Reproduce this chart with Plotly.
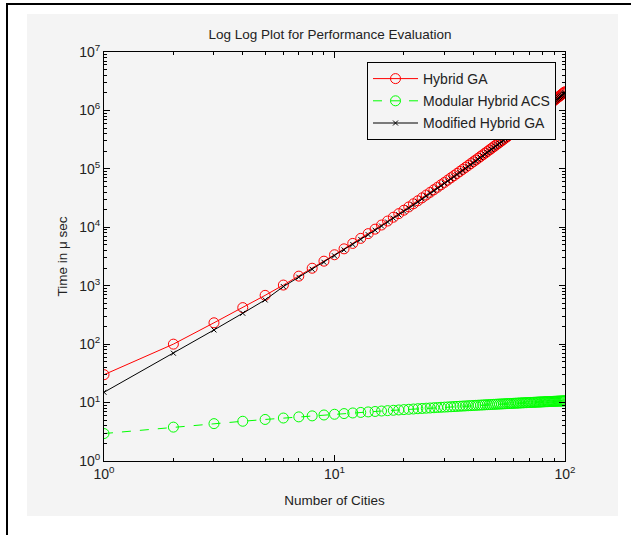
import plotly.graph_objects as go

cities = list(range(1, 101))

hybrid_ga = [30, 100, 232, 422, 684, 1026, 1459, 1991, 2630, 3388,
             4276, 5294, 6460, 7790, 9290, 10940, 12800, 14860, 17130, 19590,
             22300, 25230, 28440, 31900, 35620, 39630, 43950, 48550, 53460, 58720,
             64370, 70290, 76560, 83330, 90360, 97950, 105900, 114200, 123000, 132200,
             141900, 152000, 162800, 173900, 185600, 198100, 210700, 224000, 238200, 252600,
             267700, 283300, 299700, 316700, 334700, 353200, 372400, 391900, 412400, 433700,
             455600, 478600, 502000, 526700, 552000, 577900, 605100, 632400, 661100, 690700,
             721100, 753100, 785800, 818500, 853100, 889200, 924700, 961600, 1000000, 1040000,
             1081000, 1122000, 1167000, 1211000, 1256000, 1303000, 1349000, 1400000, 1449000, 1500000,
             1552000, 1607000, 1663000, 1718000, 1778000, 1837000, 1897000, 1959000, 2023000, 2089000]

modular_acs = [2.95, 3.80, 4.36, 4.79, 5.14, 5.44, 5.69, 5.92, 6.13, 6.31,
               6.48, 6.64, 6.78, 6.92, 7.04, 7.17, 7.28, 7.38, 7.48, 7.58,
               7.67, 7.76, 7.85, 7.93, 8.01, 8.08, 8.16, 8.23, 8.30, 8.36,
               8.43, 8.49, 8.55, 8.60, 8.66, 8.71, 8.77, 8.82, 8.87, 8.92,
               8.97, 9.02, 9.06, 9.11, 9.15, 9.20, 9.24, 9.28, 9.32, 9.36,
               9.40, 9.44, 9.47, 9.51, 9.55, 9.58, 9.62, 9.65, 9.68, 9.72,
               9.75, 9.78, 9.81, 9.85, 9.88, 9.91, 9.94, 9.97, 9.99, 10.02,
               10.05, 10.08, 10.10, 10.13, 10.16, 10.18, 10.21, 10.23, 10.26, 10.28,
               10.31, 10.33, 10.36, 10.38, 10.40, 10.42, 10.45, 10.47, 10.49, 10.51,
               10.53, 10.55, 10.58, 10.60, 10.61, 10.64, 10.66, 10.68, 10.70, 10.72]

modified_ga = [15, 70, 175, 338, 571, 966, 1400, 1910, 2520, 3250,
               4100, 5080, 6200, 7480, 8920, 10500, 12300, 14300, 16400, 18800,
               21400, 24200, 27300, 30600, 34200, 38000, 42200, 46600, 51300, 56400,
               61800, 67500, 73500, 80000, 86700, 94000, 101700, 109600, 118100, 126900,
               136200, 145900, 156300, 166900, 178200, 190200, 202300, 215000, 228700, 242500,
               257000, 272000, 287700, 304000, 321300, 339100, 357500, 376200, 395900, 416400,
               437400, 459500, 481900, 505600, 529900, 554800, 580900, 607100, 634700, 663100,
               692300, 723000, 754400, 785800, 819000, 853600, 887700, 923100, 960000, 998400,
               1037800, 1077100, 1120300, 1162600, 1205800, 1250900, 1295000, 1344000, 1391000, 1440000,
               1490000, 1543000, 1596000, 1649000, 1707000, 1764000, 1821000, 1881000, 1942000, 2005000]

x_tickvals = [1, 10, 100]
x_ticktext = ["10<sup>0</sup>", "10<sup>1</sup>", "10<sup>2</sup>"]
y_tickvals = [1, 10, 100, 1000, 10000, 100000, 1000000, 10000000]
y_ticktext = ["10<sup>%d</sup>" % i for i in range(8)]

x_minor = [m * d for d in (1, 10) for m in range(2, 10)]
y_minor = [m * 10 ** d for d in range(7) for m in range(2, 10)]

FONT = "Liberation Sans"
GRAY = "#f4f4f4"
TXT = "#222222"

fig = go.Figure()
fig.add_trace(go.Scatter(
    x=cities, y=hybrid_ga, name="Hybrid GA", mode="lines+markers", legendgroup="a",
    line=dict(color="#ff0000", width=1),
    marker=dict(symbol="circle-open", size=10, color="#ff0000", line=dict(width=1))))
fig.add_trace(go.Scatter(
    x=cities, y=modular_acs, name="Modular Hybrid ACS", mode="lines+markers", legendgroup="b",
    line=dict(color="#00ff00", width=1, dash="dash"),
    marker=dict(symbol="circle-open", size=10, color="#00ff00", line=dict(width=1))))
fig.add_trace(go.Scatter(
    x=cities, y=modified_ga, name="Modified Hybrid GA", mode="lines+markers", legendgroup="c",
    line=dict(color="#000000", width=1),
    marker=dict(symbol="x-thin-open", size=5, color="#000000", line=dict(width=1))))

L, R, T, B = 104, 66, 52, 74
W, H = 631, 535
pw, ph = W - L - R, H - T - B

def px(x):
    return (x - L) / pw

def py(y):
    return (H - B - y) / ph

shapes = [
    dict(type="rect", xref="paper", yref="paper", x0=px(27), x1=px(618), y0=py(516), y1=py(14),
         fillcolor=GRAY, line=dict(width=0), layer="below"),
    dict(type="rect", xref="paper", yref="paper", x0=px(6), x1=px(631), y0=py(5), y1=py(3),
         fillcolor="black", line=dict(width=0), layer="above"),
    dict(type="rect", xref="paper", yref="paper", x0=px(6), x1=px(8), y0=py(535), y1=py(3),
         fillcolor="black", line=dict(width=0), layer="above"),
]

axis_common = dict(
    type="log", showgrid=False, zeroline=False, showline=True, linecolor="black", linewidth=1,
    mirror="allticks", ticks="inside", ticklen=6, tickcolor="black", tickwidth=1,
    tickfont=dict(family=FONT, size=14, color=TXT),
)

fig.update_layout(
    width=W, height=H,
    margin=dict(l=L, r=R, t=T, b=B),
    paper_bgcolor="white", plot_bgcolor=GRAY,
    font=dict(family=FONT, size=13, color=TXT),
    title=dict(text="Log Log Plot for Performance Evaluation", x=px(330), xref="paper", xanchor="center",
               y=1 - 34 / H, yref="container", yanchor="middle",
               font=dict(family=FONT, size=13.5, color=TXT)),
    xaxis=dict(axis_common, range=[0, 2], tickvals=x_tickvals, ticktext=x_ticktext,
               minor=dict(tickvals=x_minor, ticks="inside", ticklen=3, tickcolor="black"),
               title=dict(text="Number of Cities", font=dict(family=FONT, size=13.5, color=TXT), standoff=14)),
    yaxis=dict(axis_common, range=[0, 7], tickvals=y_tickvals, ticktext=y_ticktext,
               minor=dict(tickvals=y_minor, ticks="inside", ticklen=3, tickcolor="black"),
               title=dict(text="Time in μ sec", font=dict(family=FONT, size=13.5, color=TXT), standoff=8)),
    legend=dict(x=px(556), y=py(62), xanchor="right", yanchor="top",
                bgcolor=GRAY, bordercolor="black", borderwidth=1, itemwidth=45,
                font=dict(family=FONT, size=14, color=TXT), tracegroupgap=1),
    shapes=shapes,
    showlegend=True,
)

fig.write_html("out.html", config={"displayModeBar": False},
               post_script="document.body.style.margin='0';")
